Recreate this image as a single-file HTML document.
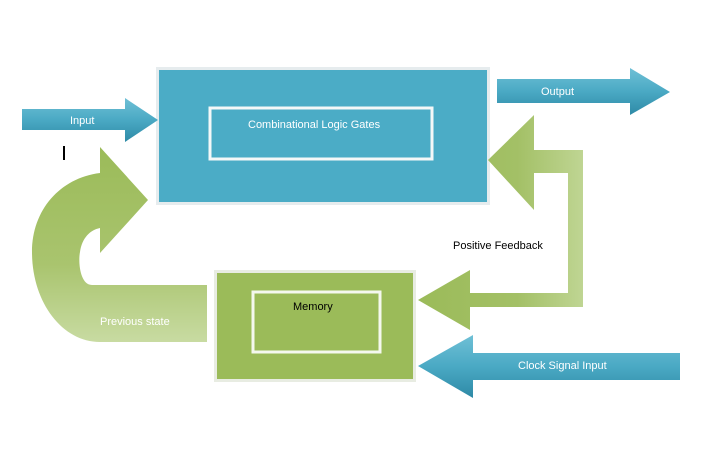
<!DOCTYPE html>
<html><head><meta charset="utf-8"><style>
html,body{margin:0;padding:0;background:#fff;width:704px;height:475px;overflow:hidden}
svg text{font-family:"Liberation Sans","DejaVu Sans",sans-serif;font-size:11px}
</style></head><body>
<svg width="704" height="475" viewBox="0 0 704 475" xmlns="http://www.w3.org/2000/svg">
<defs>
<linearGradient id="bl" x1="0" y1="0" x2="0" y2="1"><stop offset="0" stop-color="#6fc0d6"/><stop offset="0.5" stop-color="#4aa9c4"/><stop offset="1" stop-color="#2e8aa6"/></linearGradient>
<linearGradient id="gv" x1="0" y1="0" x2="0" y2="1"><stop offset="0" stop-color="#9bbb59"/><stop offset="0.6" stop-color="#a9c46e"/><stop offset="1" stop-color="#c8dba2"/></linearGradient>
<linearGradient id="gh" x1="0" y1="0" x2="1" y2="0"><stop offset="0" stop-color="#9bbb59"/><stop offset="0.6" stop-color="#a3c066"/><stop offset="1" stop-color="#bfd593"/></linearGradient>
</defs>
<rect x="156" y="67" width="334" height="138" fill="#e6ecee"/>
<rect x="159" y="70" width="328" height="132" fill="#4bacc6"/>
<rect x="210" y="108" width="222" height="51" fill="none" stroke="#f4f8f8" stroke-width="3"/>
<text x="248" y="128" fill="#fff">Combinational  Logic Gates</text>
<path d="M22 109 L125 109 L125 98 L158 120 L125 142 L125 130 L22 130 Z" fill="url(#bl)"/>
<text x="70" y="124" fill="#fff">Input</text>
<rect x="63" y="146" width="2" height="14" fill="#000"/>
<path d="M497 79 L630 79 L630 68 L670 92 L630 115 L630 103 L497 103 Z" fill="url(#bl)"/>
<text x="541" y="95" fill="#fff">Output</text>
<path d="M488 160 L534 115 L534 150 L583 150 L583 307 L470 307 L470 330 L418 300 L470 270 L470 293 L568 293 L568 173 L534 173 L534 210 Z" fill="url(#gh)"/>
<text x="453" y="249" fill="#000">Positive Feedback</text>
<rect x="214" y="270" width="202" height="112" fill="#e8ece2"/>
<rect x="217" y="273" width="196" height="106" fill="#9bbb59"/>
<rect x="253" y="292" width="127" height="60" fill="none" stroke="#f4f8ee" stroke-width="3"/>
<text x="293" y="310" fill="#000">Memory</text>
<path d="M680 353 L473 353 L473 335 L418 366 L473 398 L473 380 L680 380 Z" fill="url(#bl)"/>
<text x="518" y="369" fill="#fff">Clock Signal Input</text>
<path d="M207 285 L92 285 C80 285 78 262 80 252 C82 238 90 230 100 228 L100 253 L148 200 L100 147 L100 173 C60 178 32 210 32 252 C32 302 62 342 100 342 L207 342 Z" fill="url(#gv)"/>
<text x="100" y="325" fill="#fff">Previous state</text>
</svg>
</body></html>
